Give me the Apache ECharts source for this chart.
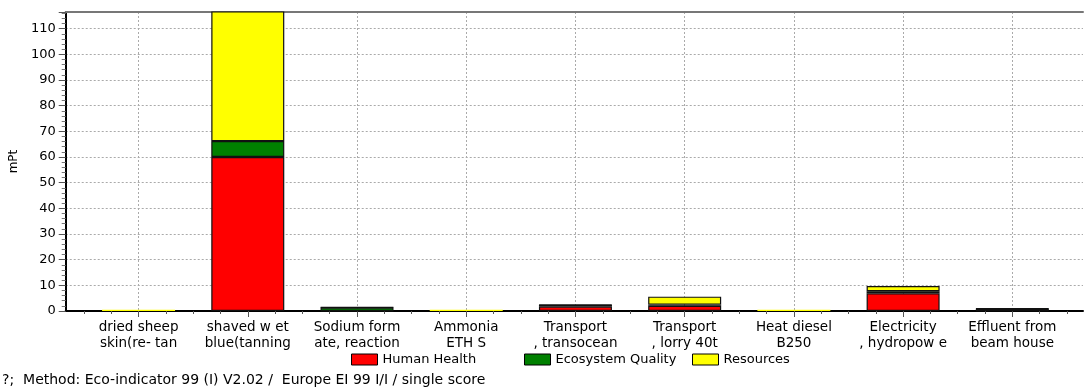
<!DOCTYPE html>
<html>
<head>
<meta charset="utf-8">
<script src="https://cdn.jsdelivr.net/npm/echarts@6/dist/echarts.min.js"></script>
<style>
  html, body { margin: 0; padding: 0; background: #ffffff; }
  #chart { width: 1084px; height: 392px; }
</style>
</head>
<body>
<div id="chart"></div>
<script>
// Process contributions, single score (mPt)
const categories = [
  'dried sheep\nskin(re- tan',
  'shaved w et\nblue(tanning',
  'Sodium form\nate, reaction',
  'Ammonia\nETH S',
  'Transport\n, transocean',
  'Transport\n, lorry 40t',
  'Heat diesel\nB250',
  'Electricity\n, hydropow e',
  'Effluent from\nbeam house'
];
const humanHealth      = [0,   60,  0.05, 0,   1.7, 2.0, 0,   6.9, 0.2];
const ecosystemQuality = [0,   6.2, 1.3,  0,   0.6, 0.5, 0,   0.8, 0.7];
const resources        = [0.5, 51,  0.1,  0.5, 0.1, 3.1, 0.5, 2.0, 0.1];
const seriesNames = ['Human Health', 'Ecosystem Quality', 'Resources'];
const yTicks = [0, 10, 20, 30, 40, 50, 60, 70, 80, 90, 100, 110];
const footerText = '?;  Method: Eco-indicator 99 (I) V2.02 /  Europe EI 99 I/I / single score';

const FONT = 'DejaVu Sans';
const xMin = -0.667, xMax = 8.647, yMax = 116.5;

const centers = categories.map((_, i) => i);
const quarters = [];
for (let i = 0; i < categories.length; i++) {
  quarters.push(i - 0.5, i - 0.25, i + 0.25);
}
quarters.push(categories.length - 0.5);

const totals = categories.map((_, i) => humanHealth[i] + ecosystemQuality[i] + resources[i]);

// value first so that the stack runs along the value dimension;
// near-zero stacks are drawn without an outline
const items = (vals) => vals.map((v, i) => (
  totals[i] < 0.8
    ? { value: [v, i], itemStyle: { borderWidth: 0 } }
    : { value: [v, i] }
));

const barSeries = (name, vals, color) => ({
  name: name,
  type: 'bar',
  stack: 'score',
  xAxisIndex: 0,
  barWidth: 73,
  encode: { x: 1, y: 0 },
  data: items(vals),
  itemStyle: { color: color, borderColor: '#111111', borderWidth: 1.2 }
});

// one legend entry per component so each sits at its own spot
const legendLefts = [346, 519, 687];
const legends = seriesNames.map((name, i) => ({
  data: [name],
  left: legendLefts[i],
  top: 348,
  itemWidth: 26,
  itemHeight: 11,
  icon: 'rect',
  textStyle: { fontFamily: FONT, fontSize: 13, color: '#000' },
  itemStyle: { borderColor: '#000', borderWidth: 1 }
}));

const chart = echarts.init(document.getElementById('chart'), null, { renderer: 'canvas' });
chart.setOption({
  animation: false,
  backgroundColor: '#ffffff',
  textStyle: { fontFamily: FONT },
  grid: { left: 64, right: 1, top: 12, bottom: 81, containLabel: false },
  legend: legends,
  graphic: [{
    type: 'text',
    left: 2,
    top: 373,
    style: { text: footerText, fontFamily: FONT, fontSize: 14, fill: '#000' }
  }],
  xAxis: [
    {
      type: 'value',
      position: 'bottom',
      min: xMin,
      max: xMax,
      axisLine: { show: true, onZero: false, lineStyle: { color: '#000', width: 2 } },
      axisTick: { show: true, customValues: centers, length: 6, lineStyle: { color: '#555' } },
      axisLabel: {
        customValues: centers,
        formatter: (v) => categories[Math.round(v)] || '',
        fontFamily: FONT, fontSize: 13.5, color: '#000', margin: 8, lineHeight: 16
      },
      splitLine: { show: true, lineStyle: { color: '#aaaaaa', type: [2, 2], width: 1 } }
    },
    {
      type: 'value',
      position: 'bottom',
      min: xMin,
      max: xMax,
      axisLine: { show: false },
      axisTick: { show: true, customValues: quarters, length: 3, lineStyle: { color: '#555' } },
      axisLabel: { show: false },
      splitLine: { show: false }
    },
    {
      type: 'value',
      position: 'top',
      min: xMin,
      max: xMax,
      axisLine: { show: true, onZero: false, lineStyle: { color: '#777', width: 2 } },
      axisTick: { show: false },
      axisLabel: { show: false },
      splitLine: { show: false }
    }
  ],
  yAxis: [{
    type: 'value',
    min: 0,
    max: yMax,
    interval: 10,
    name: 'mPt',
    nameLocation: 'middle',
    nameGap: 44,
    nameRotate: 90,
    nameTextStyle: { fontFamily: FONT, fontSize: 12, color: '#000' },
    axisLine: { show: true, onZero: false, lineStyle: { color: '#000', width: 2 } },
    axisTick: { show: true, length: 7, lineStyle: { color: '#555' } },
    minorTick: { show: true, splitNumber: 5, length: 4, lineStyle: { color: '#777' } },
    axisLabel: {
      fontFamily: FONT, fontSize: 13, color: '#000', margin: 10,
      showMaxLabel: false,
      formatter: (v) => (yTicks.indexOf(v) >= 0 ? String(v) : '')
    },
    splitLine: { show: true, lineStyle: { color: '#aaaaaa', type: [2, 2], width: 1 } }
  }],
  series: [
    barSeries(seriesNames[0], humanHealth, '#ff0000'),
    barSeries(seriesNames[1], ecosystemQuality, '#008000'),
    barSeries(seriesNames[2], resources, '#ffff00')
  ]
});
</script>
</body>
</html>
